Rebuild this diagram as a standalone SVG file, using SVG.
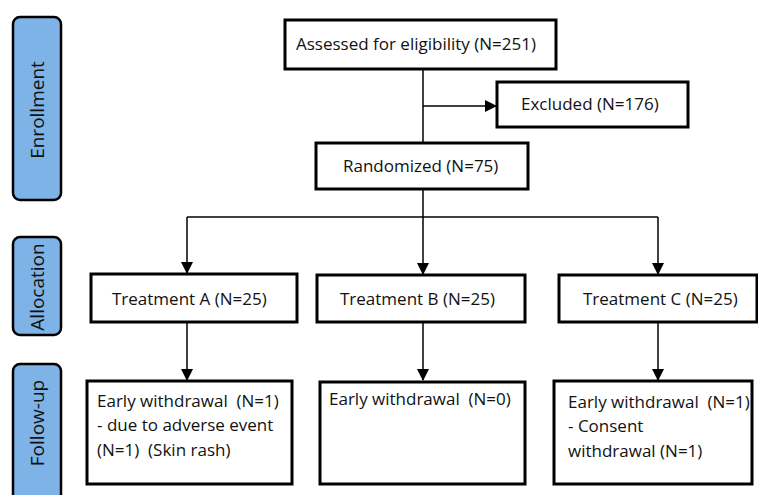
<svg xmlns="http://www.w3.org/2000/svg" width="758" height="495" viewBox="0 0 758 495">
<defs>
<marker id="ah" markerWidth="12" markerHeight="12" refX="11" refY="6" orient="auto" markerUnits="userSpaceOnUse">
<path d="M0,0 L12,6 L0,12 Z" fill="#000"/>
</marker>
<style>
.box{fill:#fff;stroke:#000;stroke-width:3}
.lab{fill:#7db3e6;stroke:#000;stroke-width:2.5}
.t{font-family:"Open Sans","Liberation Sans",sans-serif;font-size:17px;fill:#111;white-space:pre}
.lt{font-family:"Open Sans","Liberation Sans",sans-serif;font-size:19px;fill:#111;text-anchor:middle}
.c{fill:none;stroke:#000;stroke-width:1.5}
.ca{fill:none;stroke:#000;stroke-width:1.5;marker-end:url(#ah)}
</style>
</defs>
<rect width="758" height="495" fill="#fff"/>
<g id="label-enrollment">
<rect class="lab" x="13" y="17" width="48" height="183" rx="7"/>
<text class="lt" transform="translate(44,110) rotate(-90)">Enrollment</text>
</g>
<g id="label-allocation">
<rect class="lab" x="13" y="237" width="48" height="98" rx="7"/>
<text class="lt" transform="translate(44,287) rotate(-90)">Allocation</text>
</g>
<g id="label-followup">
<rect class="lab" x="13" y="364" width="48" height="140" rx="7"/>
<text class="lt" transform="translate(44,423) rotate(-90)">Follow-up</text>
</g>
<g id="connectors">
<line class="c" x1="423" y1="69" x2="423" y2="143"/>
<line class="ca" x1="423" y1="106" x2="496" y2="106"/>
<line class="c" x1="423" y1="189" x2="423" y2="217"/>
<polyline class="c" points="187,217 658,217"/>
<line class="ca" x1="187" y1="217" x2="187" y2="273"/>
<line class="ca" x1="423" y1="217" x2="423" y2="274"/>
<line class="ca" x1="658" y1="217" x2="658" y2="274"/>
<line class="ca" x1="187" y1="322" x2="187" y2="380"/>
<line class="ca" x1="423" y1="322" x2="423" y2="380"/>
<line class="ca" x1="658" y1="322" x2="658" y2="380"/>
</g>
<g id="assessed">
<rect class="box" x="285" y="20" width="271" height="49"/>
<text class="t" x="296" y="50">Assessed for eligibility (N=251)</text>
</g>
<g id="excluded">
<rect class="box" x="497" y="82" width="191" height="45"/>
<text class="t" x="521" y="110">Excluded (N=176)</text>
</g>
<g id="randomized">
<rect class="box" x="316" y="143" width="212" height="46"/>
<text class="t" x="343" y="172">Randomized (N=75)</text>
</g>
<g id="treatA">
<rect class="box" x="91" y="274" width="206" height="48"/>
<text class="t" x="112" y="305">Treatment A (N=25)</text>
</g>
<g id="treatB">
<rect class="box" x="317" y="275" width="208" height="47"/>
<text class="t" x="340" y="305">Treatment B (N=25)</text>
</g>
<g id="treatC">
<rect class="box" x="559" y="275" width="198" height="47"/>
<text class="t" x="583" y="305">Treatment C (N=25)</text>
</g>
<g id="followA">
<rect class="box" x="87" y="381" width="205" height="103"/>
<text class="t" x="97" y="407">Early withdrawal  (N=1)</text>
<text class="t" x="97" y="431">- due to adverse event</text>
<text class="t" x="97" y="456">(N=1)  (Skin rash)</text>
</g>
<g id="followB">
<rect class="box" x="320" y="382" width="205" height="102"/>
<text class="t" x="329" y="405">Early withdrawal  (N=0)</text>
</g>
<g id="followC">
<rect class="box" x="554" y="381" width="198" height="103"/>
<text class="t" x="568" y="408">Early withdrawal  (N=1)</text>
<text class="t" x="568" y="432">- Consent</text>
<text class="t" x="568" y="457">withdrawal (N=1)</text>
</g>
</svg>
